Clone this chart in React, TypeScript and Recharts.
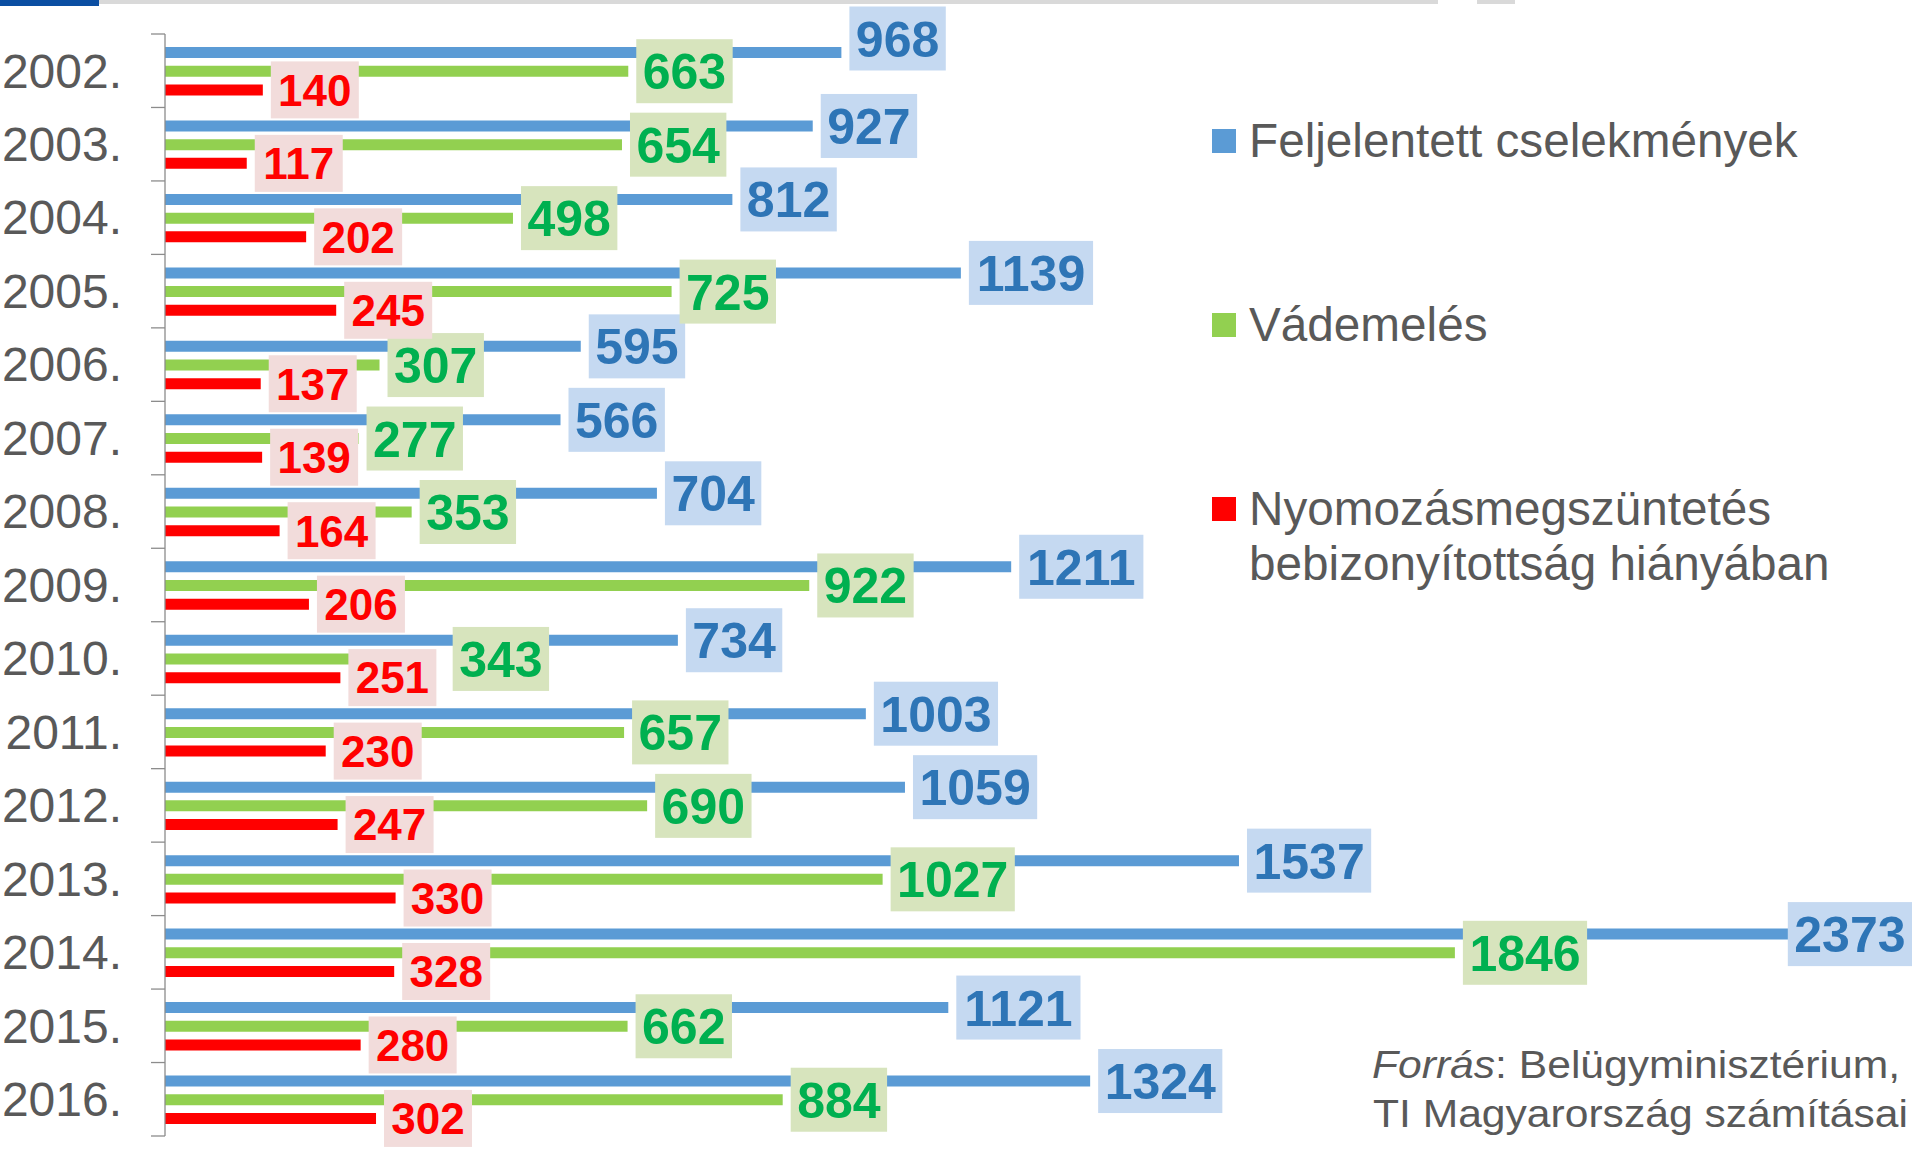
import React from "react";
import { Bar, BarChart, LabelList, Legend, XAxis, YAxis } from "recharts";

const years = [
  "2002.", "2003.", "2004.", "2005.", "2006.", "2007.", "2008.", "2009.",
  "2010.", "2011.", "2012.", "2013.", "2014.", "2015.", "2016.",
];
const reported = [968, 927, 812, 1139, 595, 566, 704, 1211, 734, 1003, 1059, 1537, 2373, 1121, 1324];
const indicted = [663, 654, 498, 725, 307, 277, 353, 922, 343, 657, 690, 1027, 1846, 662, 884];
const dropped = [140, 117, 202, 245, 137, 139, 164, 206, 251, 230, 247, 330, 328, 280, 302];

const seriesNames = [
  "Feljelentett cselekmények",
  "Vádemelés",
  "Nyomozásmegszüntetés bebizonyítottság hiányában",
];
const sourceLabel = "Forrás";
const sourceRest = ": Belügyminisztérium,";
const sourceLine2 = "TI Magyarország számításai";

const data = years.map((year, i) => ({
  year,
  reported: reported[i],
  indicted: indicted[i],
  dropped: dropped[i],
}));

const W = 1915;
const H = 1150;
const MARGIN = { top: 34, right: 73, bottom: 14, left: 0 };
const AXIS_W = 165;
const BAND = (H - MARGIN.top - MARGIN.bottom) / years.length;
const FONT = '"Liberation Sans", Arial, Helvetica, sans-serif';
const GREY_TEXT = "#595959";
const AXIS_COLOR = "#8c8c8c";
const LABEL_LIMIT = 1912;

type LabelLook = { text: string; box: string; size: number; boxH: number; pad: number };

const blueLook: LabelLook = { text: "#2E75B6", box: "#C5D9F1", size: 50, boxH: 64, pad: 6.5 };
const greenLook: LabelLook = { text: "#00B050", box: "#D7E4BD", size: 50, boxH: 64, pad: 6.5 };
const redLook: LabelLook = { text: "#FF0000", box: "#F2DCDB", size: 44, boxH: 57, pad: 7.3 };

type Nudge = (i: number) => { dx: number; dy: number };
const noNudge: Nudge = () => ({ dx: 0, dy: 0 });

const makeLabel = (look: LabelLook, nudge: Nudge = noNudge) =>
  (props: any) => {
    const vb = props.viewBox ?? {};
    const x = Number(props.x ?? vb.x);
    const y = Number(props.y ?? vb.y);
    const w = Number(props.width ?? vb.width);
    const h = Number(props.height ?? vb.height);
    const label = String(props.value);
    const { dx, dy } = nudge(Number(props.index));
    const bw = label.length * look.size * 0.556 + look.pad * 2;
    let left = x + w + 8 + dx;
    if (left + bw > LABEL_LIMIT) left = LABEL_LIMIT - bw;
    const cy = y + h / 2 + dy;
    return (
      <g>
        <rect x={left} y={cy - look.boxH / 2} width={bw} height={look.boxH} fill={look.box} />
        <text
          x={left + bw / 2}
          y={cy}
          dy="0.36em"
          textAnchor="middle"
          fontFamily={FONT}
          fontSize={look.size}
          fontWeight="bold"
          fill={look.text}
        >
          {label}
        </text>
      </g>
    );
  };

// a couple of labels were moved by hand in the original so they don't collide
const blueLabel = makeLabel(blueLook, (i) => ({ dx: 0, dy: i === 0 ? -14 : 0 }));
const greenLabel = makeLabel(greenLook, (i) => ({ dx: i === 8 ? 40 : 0, dy: 0 }));
const redLabel = makeLabel(redLook);

const YearTick = (props: any) => {
  const { y, payload, index } = props;
  const top = y - BAND / 2;
  return (
    <g>
      <line x1={151} x2={AXIS_W} y1={top} y2={top} stroke={AXIS_COLOR} strokeWidth={1.3} />
      {index === years.length - 1 && (
        <line x1={151} x2={AXIS_W} y1={y + BAND / 2} y2={y + BAND / 2} stroke={AXIS_COLOR} strokeWidth={1.3} />
      )}
      <text x={122} y={y} dy="0.35em" textAnchor="end" fontFamily={FONT} fontSize={48} fill={GREY_TEXT}>
        {payload.value}
      </text>
    </g>
  );
};

const LegendBox = (props: any) => {
  const items = [...(props.payload ?? [])].sort(
    (a: any, b: any) => seriesNames.indexOf(a.value) - seriesNames.indexOf(b.value),
  );
  return (
    <div style={{ fontFamily: FONT, fontSize: 47.7, lineHeight: "55px", color: GREY_TEXT }}>
      {items.map((item: any) => (
        <div key={item.value} style={{ position: "relative", height: 184, paddingLeft: 37 }}>
          <span
            style={{
              position: "absolute",
              left: 0,
              top: 15.5,
              width: 24,
              height: 24,
              background: item.color,
            }}
          />
          <div style={{ width: 640 }}>{item.value}</div>
        </div>
      ))}
    </div>
  );
};

export default function App() {
  return (
    <div style={{ position: "absolute", left: 0, top: 0, width: W, height: H, background: "#fff" }}>
      <BarChart
        width={W}
        height={H}
        data={data}
        layout="vertical"
        margin={MARGIN}
        barGap={7.7}
        barSize={11}
      >
        <XAxis type="number" domain={[0, 2400]} hide />
        <YAxis
          type="category"
          dataKey="year"
          width={AXIS_W}
          interval={0}
          tickLine={false}
          axisLine={{ stroke: AXIS_COLOR, strokeWidth: 1.3 }}
          tick={<YearTick />}
        />
        <Legend
          layout="horizontal"
          verticalAlign="middle"
          align="center"
          content={<LegendBox />}
          wrapperStyle={{ position: "absolute", left: 1212, top: 113, width: 690, height: 560 }}
        />
        <Bar dataKey="reported" name={seriesNames[0]} fill="#5B9BD5" isAnimationActive={false}>
          <LabelList dataKey="reported" content={blueLabel} />
        </Bar>
        <Bar dataKey="indicted" name={seriesNames[1]} fill="#92D050" isAnimationActive={false}>
          <LabelList dataKey="indicted" content={greenLabel} />
        </Bar>
        <Bar dataKey="dropped" name={seriesNames[2]} fill="#FF0000" isAnimationActive={false}>
          <LabelList dataKey="dropped" content={redLabel} />
        </Bar>
      </BarChart>

      <svg
        width={W}
        height={H}
        style={{ position: "absolute", left: 0, top: 0, pointerEvents: "none" }}
      >
        <rect x={0} y={0} width={99} height={6} fill="#0B4EA2" />
        <rect x={99} y={0} width={1339} height={4} fill="#D9D9D9" />
        <rect x={1477} y={0} width={38} height={4} fill="#D9D9D9" />
        <text
          x={1372}
          y={1078}
          fontFamily={FONT}
          fontSize={38}
          fill={GREY_TEXT}
          textLength={528}
          lengthAdjust="spacingAndGlyphs"
        >
          <tspan fontStyle="italic">{sourceLabel}</tspan>
          {sourceRest}
        </text>
        <text
          x={1373}
          y={1127}
          fontFamily={FONT}
          fontSize={38}
          fill={GREY_TEXT}
          textLength={535}
          lengthAdjust="spacingAndGlyphs"
        >
          {sourceLine2}
        </text>
      </svg>
    </div>
  );
}
